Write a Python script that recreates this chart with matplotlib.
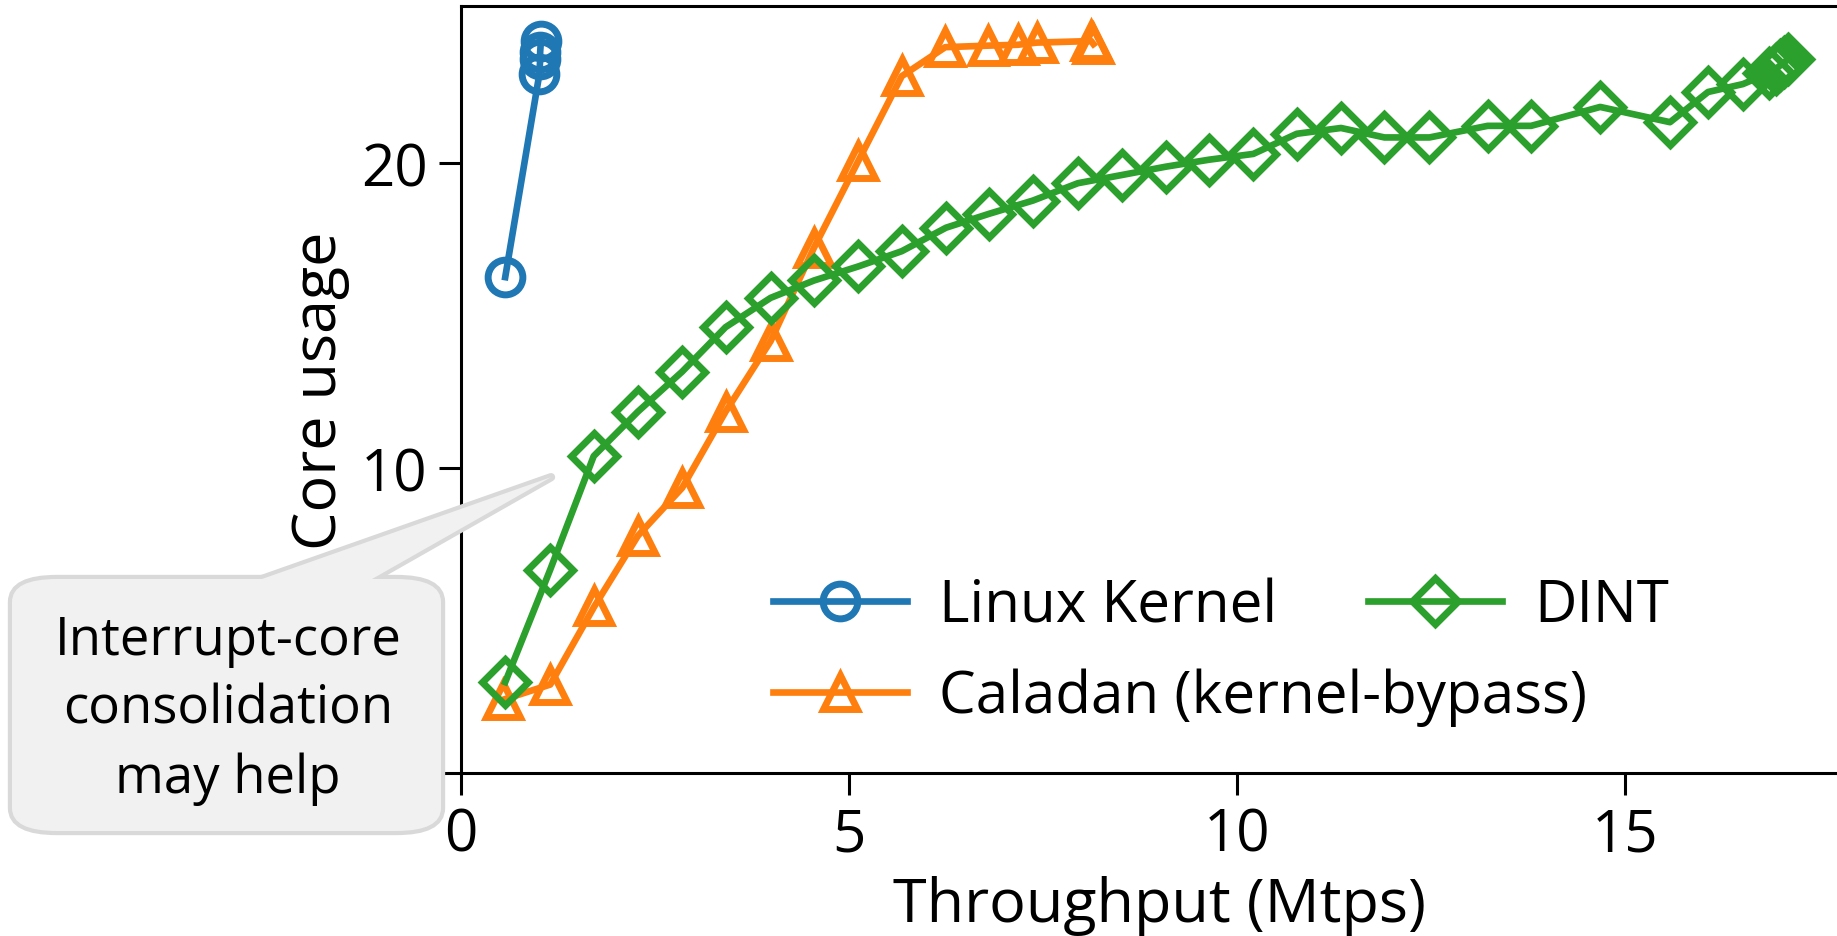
import matplotlib
matplotlib.use("Agg")
import matplotlib.pyplot as plt
from matplotlib.patches import FancyBboxPatch, Polygon

plt.rcParams['font.family'] = ['Open Sans', 'DejaVu Sans']

# ---- data ----
linux_x = [0.57, 1.01, 1.02, 1.02, 1.03]
linux_y = [16.26, 22.92, 23.40, 23.64, 24.00]

caladan_x = [0.54, 1.15, 1.72, 2.28, 2.85, 3.41, 3.99, 4.55, 5.12, 5.68,
             6.24, 6.79, 7.18, 7.42, 8.12, 8.15]
caladan_y = [2.40, 2.90, 5.47, 7.78, 9.35, 11.85, 14.16, 17.23, 20.07, 22.85,
             23.80, 23.85, 23.88, 23.95, 24.00, 23.90]

dint_x = [0.57, 1.15, 1.71, 2.28, 2.85, 3.41, 3.99, 4.55, 5.12, 5.68,
          6.25, 6.81, 7.37, 7.95, 8.52, 9.08, 9.64, 10.21, 10.77, 11.34,
          11.90, 12.48, 13.23, 13.79, 14.68, 15.58, 16.07, 16.52, 16.85,
          16.95, 17.00, 17.05, 17.10]
dint_y = [2.98, 6.67, 10.39, 11.85, 13.16, 14.62, 15.58, 16.15, 16.61, 17.11,
          17.88, 18.34, 18.77, 19.34, 19.61, 19.88, 20.11, 20.30, 20.96, 21.15,
          20.84, 20.84, 21.22, 21.22, 21.84, 21.34, 22.33, 22.59, 22.95,
          23.10, 23.20, 23.30, 23.40]

series_labels = ["Linux Kernel", "Caladan (kernel-bypass)", "DINT"]
xticks = [0, 5, 10, 15]
yticks = [0, 10, 20]
callout_text = ["Interrupt-core", "consolidation", "may help"]

W, H = 1837, 937
fig = plt.figure(figsize=(W / 100, H / 100), dpi=100)
ax = fig.add_axes([461 / W, 1 - 774 / H, 18 * 77.6 / W, (774 - 7) / H])

FS = 42
LW = 4.8
MS = 25
MEW = 5.0
C_BLUE, C_ORANGE, C_GREEN = '#1f77b4', '#ff7f0e', '#2ca02c'

l1, = ax.plot(linux_x, linux_y, color=C_BLUE, lw=LW, marker='o', ms=MS,
              mfc='none', mew=MEW, label=series_labels[0], clip_on=False)
l2, = ax.plot(caladan_x, caladan_y, color=C_ORANGE, lw=LW, marker='^', ms=MS,
              mfc='none', mew=MEW, label=series_labels[1], clip_on=False)
l3, = ax.plot(dint_x, dint_y, color=C_GREEN, lw=LW, marker='D', ms=23,
              mfc='none', mew=MEW, label=series_labels[2], clip_on=False)

ax.set_xlim(0, 18)
ax.set_ylim(0, 25.15)
ax.set_xticks(xticks)
ax.set_yticks(yticks)
ax.tick_params(axis='both', labelsize=FS, length=16, width=2.2, pad=8)
for s in ['top', 'left', 'bottom', 'right']:
    ax.spines[s].set_linewidth(2.2)
ax.set_xlabel("Throughput (Mtps)", fontsize=FS + 2, labelpad=7)
ax.set_ylabel("Core usage", fontsize=FS + 2, labelpad=8)

# legends (each entry anchored individually, frameless)
def add_leg(handle, label, xpx, ypx):
    leg = ax.legend([handle], [label], loc='center left',
                    bbox_to_anchor=(xpx / W, 1 - ypx / H),
                    bbox_transform=fig.transFigure, frameon=False,
                    fontsize=FS, borderpad=0, borderaxespad=0,
                    handlelength=2.3, handletextpad=0.55)
    ax.add_artist(leg)
    return leg

add_leg(l1, series_labels[0], 773, 607)
add_leg(l3, series_labels[2], 1368, 607)
add_leg(l2, series_labels[1], 773, 698)
ax.legend_ = None

# ---- callout ----
def fp(x, y):
    return (x / W, 1 - y / H)

fig.canvas.draw()
tip_disp = ax.transData.transform((1.16, 9.70))
tip = fig.transFigure.inverted().transform(tip_disp)

bx0, by0, bx1, by1 = 12, 580, 441, 832
box_kw = dict(boxstyle=f"round,pad=0,rounding_size={45/W}", transform=fig.transFigure)
x0f, y1f = fp(bx0, by0)
x1f, y0f = fp(bx1, by1)

bl = fp(262, 580)
br = fp(372, 580)
def extend(p, t, frac):
    return (p[0] + (p[0] - t[0]) * frac, p[1] + (p[1] - t[1]) * frac)
bl2 = extend(bl, tip, 0.25)
br2 = extend(br, tip, 0.25)
wedge_pts = [tip, bl2, br2]

EC = '#d9d9d9'
FC = '#f1f1f1'
edge_box = FancyBboxPatch((x0f, y0f), x1f - x0f, y1f - y0f, fc=FC, ec=EC,
                          lw=6, zorder=20, **box_kw)
edge_wedge = Polygon(wedge_pts, closed=True, fc=FC, ec=EC, lw=6,
                     joinstyle='round', transform=fig.transFigure, zorder=20)
fill_box = FancyBboxPatch((x0f, y0f), x1f - x0f, y1f - y0f, fc=FC, ec='none',
                          lw=0, zorder=21, **box_kw)
fill_wedge = Polygon(wedge_pts, closed=True, fc=FC, ec='none', lw=0,
                     transform=fig.transFigure, zorder=21)
for p in (edge_box, edge_wedge, fill_box, fill_wedge):
    fig.add_artist(p)

for txt, ybase in zip(callout_text, [655, 724, 793]):
    fig.text(228 / W, 1 - ybase / H, txt, ha='center', va='baseline',
             fontsize=38, zorder=22)

fig.savefig("out.png", dpi=100)
